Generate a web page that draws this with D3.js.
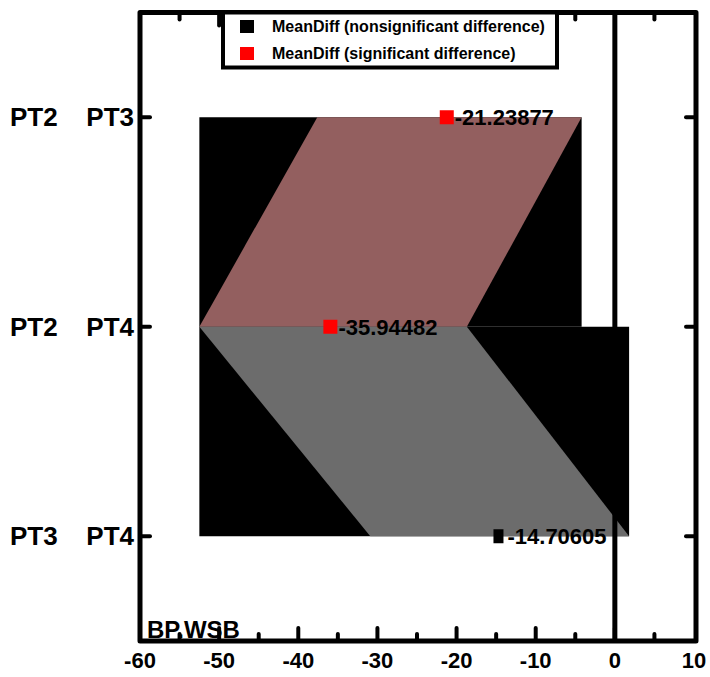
<!DOCTYPE html>
<html>

<head>
    <meta charset="utf-8">
    <style>
        body {
            margin: 0;
            background: #fff;
        }

        svg {
            display: block;
            font-family: 'Liberation Sans', Arial, sans-serif;
        }

        .row-label {
            font-size: 26px;
            font-weight: bold;
        }

        .tick-label {
            font-size: 22px;
            font-weight: bold;
        }

        .value-label {
            font-size: 22px;
            font-weight: bold;
        }

        .legend-text {
            font-size: 16px;
            font-weight: bold;
        }
    </style>
</head>

<body>
    <svg width="710" height="677"></svg>

    <script src="https://d3js.org/d3.v7.min.js"></script>
    <script>
        // comparisons, top to bottom
        let rows = [["PT2", "PT3"], ["PT2", "PT4"], ["PT3", "PT4"]]
        let meanDiff = [-21.23877, -35.94482, -14.70605]
        let lowerCI = [-37.6, -52.5, -30.9]
        let upperCI = [-4.2, -18.7, 1.8]
        let significant = [true, true, false]

        let xTicks = [-60, -50, -40, -30, -20, -10, 0, 10]
        let xMinorTicks = [-55, -45, -35, -25, -15, -5, 5]

        let legendItems = [
            { text: "MeanDiff (nonsignificant difference)", color: "#000" },
            { text: "MeanDiff (significant difference)", color: "#ff0000" }
        ]

        let svg = d3.select("svg")

        let margin = { top: 12.5, right: 16, bottom: 36, left: 140 }
        let width = 710
        let height = 677

        let x = d3.scaleLinear()
            .domain([-60, 10])
            .range([margin.left, width - margin.right])

        let y = d3.scaleLinear()
            .domain([0.5, 3.5])
            .range([margin.top, height - margin.bottom])

        // bands between neighbouring comparisons
        let bands = d3.range(rows.length - 1).map(i => ({
            i: i,
            lo: Math.min(lowerCI[i], lowerCI[i + 1]),
            hi: Math.max(upperCI[i], upperCI[i + 1]),
            sig: significant[i] && significant[i + 1]
        }))

        // black envelope
        svg.append("g")
            .selectAll("rect")
            .data(bands)
            .join("rect")
            .attr("x", d => x(d.lo))
            .attr("y", d => y(d.i + 1))
            .attr("width", d => x(d.hi) - x(d.lo))
            .attr("height", d => y(d.i + 2) - y(d.i + 1))
            .attr("fill", "#000")

        // CI areas
        svg.append("g")
            .selectAll("path")
            .data(bands)
            .join("path")
            .attr("fill", d => d.sig ? "#935f5f" : "#6c6c6c")
            .attr("d", d => {
                let i = d.i
                return "M" + x(lowerCI[i]) + "," + y(i + 1) +
                    "L" + x(upperCI[i]) + "," + y(i + 1) +
                    "L" + x(upperCI[i + 1]) + "," + y(i + 2) +
                    "L" + x(lowerCI[i + 1]) + "," + y(i + 2) + "Z"
            })

        // zero line
        svg.append("line")
            .attr("x1", x(0))
            .attr("x2", x(0))
            .attr("y1", margin.top)
            .attr("y2", height - margin.bottom)
            .attr("stroke", "#000")
            .attr("stroke-width", 5)

        // mean markers
        svg.append("g")
            .selectAll("rect")
            .data(meanDiff)
            .join("rect")
            .attr("x", (d, i) => x(d) - (significant[i] ? 7 : 5))
            .attr("y", (d, i) => y(i + 1) - 7)
            .attr("width", (d, i) => significant[i] ? 14 : 10)
            .attr("height", 14)
            .attr("fill", (d, i) => significant[i] ? "#ff0000" : "#000")

        svg.append("g")
            .selectAll("text")
            .data(meanDiff)
            .join("text")
            .attr("class", "value-label")
            .attr("x", (d, i) => x(d) + (significant[i] ? 8 : 9))
            .attr("y", (d, i) => y(i + 1) + 8)
            .text(d => d.toFixed(5))

        // frame
        svg.append("rect")
            .attr("x", margin.left)
            .attr("y", margin.top)
            .attr("width", width - margin.right - margin.left + 2)
            .attr("height", height - margin.bottom - margin.top)
            .attr("fill", "none")
            .attr("stroke", "#000")
            .attr("stroke-width", 5)
            .attr("stroke-linejoin", "round")

        // ticks
        let ticks = svg.append("g")
            .attr("stroke", "#000")
            .attr("stroke-width", 4)
            .attr("stroke-linecap", "round")

        let yb = height - margin.bottom
        let xr = width - margin.right + 2
        ticks.selectAll(".xmaj")
            .data(xTicks.filter(t => t > -60 && t < 10))
            .join("line")
            .attr("x1", d => x(d)).attr("x2", d => x(d))
            .attr("y1", yb).attr("y2", yb - 13)
        ticks.selectAll(".xmin")
            .data(xMinorTicks)
            .join("line")
            .attr("class", "xmin")
            .attr("x1", d => x(d)).attr("x2", d => x(d))
            .attr("y1", yb).attr("y2", yb - 7)
        ticks.selectAll(".xtop")
            .data(xMinorTicks.concat([-50]))
            .join("line")
            .attr("class", "xtop")
            .attr("x1", d => x(d)).attr("x2", d => x(d))
            .attr("y1", margin.top).attr("y2", d => margin.top + (d % 10 == 0 ? 13 : 7))
        ticks.selectAll(".yl")
            .data(rows)
            .join("line")
            .attr("class", "yl")
            .attr("x1", margin.left).attr("x2", margin.left + 10)
            .attr("y1", (d, i) => y(i + 1)).attr("y2", (d, i) => y(i + 1))
        ticks.selectAll(".yr")
            .data(rows)
            .join("line")
            .attr("class", "yr")
            .attr("x1", xr).attr("x2", xr - 10)
            .attr("y1", (d, i) => y(i + 1)).attr("y2", (d, i) => y(i + 1))

        // tick labels
        svg.append("g")
            .selectAll("text")
            .data(xTicks)
            .join("text")
            .attr("class", "tick-label")
            .attr("x", d => x(d))
            .attr("y", 668)
            .attr("text-anchor", "middle")
            .text(d => d)

        let rowLabels = svg.append("g")
            .selectAll("g")
            .data(rows)
            .join("g")
            .attr("transform", (d, i) => `translate(0,${y(i + 1) + 9})`)
        rowLabels.append("text")
            .attr("class", "row-label")
            .attr("x", 10)
            .text(d => d[0])
        rowLabels.append("text")
            .attr("class", "row-label")
            .attr("x", 134)
            .attr("text-anchor", "end")
            .text(d => d[1])

        svg.append("text")
            .attr("class", "row-label")
            .style("font-size", "24px")
            .attr("x", 147)
            .attr("y", 638)
            .text("BP.WSB")

        // legend
        let legend = svg.append("g")
        legend.append("rect")
            .attr("x", 223)
            .attr("y", margin.top)
            .attr("width", 334)
            .attr("height", 55)
            .attr("fill", "#fff")
            .attr("stroke", "#000")
            .attr("stroke-width", 4)

        legend.selectAll(".sw")
            .data(legendItems)
            .join("rect")
            .attr("class", "sw")
            .attr("x", 240)
            .attr("y", (d, i) => 20 + i * 27)
            .attr("width", 14)
            .attr("height", 13)
            .attr("fill", d => d.color)

        legend.selectAll("text")
            .data(legendItems)
            .join("text")
            .attr("class", "legend-text")
            .attr("x", 272)
            .attr("y", (d, i) => 32 + i * 27)
            .text(d => d.text)
    </script>
</body>

</html>
